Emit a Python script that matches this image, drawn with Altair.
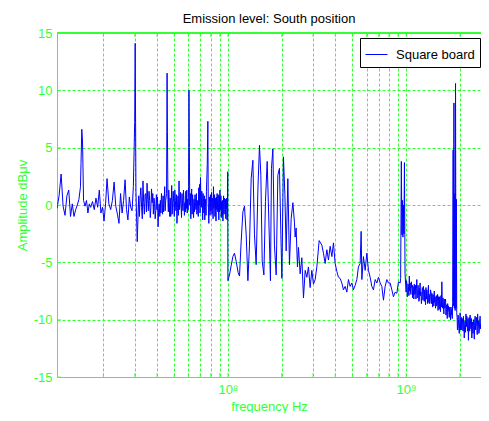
import altair as alt
import pandas as pd

series_name = "Square board"
chart_title = "Emission level: South position"

# Trace: frequency in MHz, amplitude in dBuV, split by sweep band.
# Band A: 11 - 31 MHz
band_a_freq = [
    11.0, 11.3, 11.6, 11.9, 12.2, 12.5, 12.8, 13.1, 13.4, 13.7, 14.0, 14.3, 14.6, 14.9, 15.0, 15.15, 15.3, 15.5,
    15.8, 16.1, 16.4, 16.7, 17.0, 17.4, 17.8, 18.2, 18.6, 19.0, 19.4, 19.8, 20.2, 20.6, 21.0, 21.5, 22.0, 22.5,
    23.0, 23.5, 24.0, 24.5, 25.0, 25.5, 26.0, 26.5, 27.0, 27.5, 28.0, 28.5, 29.0, 29.5, 30.0, 30.2, 30.5, 31.0,
]
band_a_amp = [
    -0.3, 0.8, 2.7, -0.1, -0.9, 0.8, 1.3, -1.0, 0.1, -1.0, -0.4, 0.0, 0.5, 1.6, 3.6, 6.6, 5.5, 0.4,
    -0.1, 0.4, -0.7, 0.1, -0.2, 0.3, -0.4, 0.6, -0.2, 1.3, -0.7, -0.2, -1.4, 0.1, 2.3, 0.1, -0.4, 0.4,
    2.0, -0.1, -0.8, -1.6, 1.0, -0.7, 0.4, 2.2, -0.4, -1.3, 0.7, -0.2, -0.5, 1.6, 7.2, 14.1, 1.2, -3.2,
]

# Band B: 31.6 - 99.8 MHz
band_b_freq = [
    31.6, 31.9, 32.2, 32.5, 32.8, 33.1, 33.4, 33.7, 34.0, 34.3, 34.6, 34.9, 35.2, 35.5, 35.8, 36.1, 36.4, 36.7,
    37.0, 37.3, 37.6, 37.9, 38.2, 38.5, 38.8, 39.1, 39.4, 39.7, 40.0, 40.3, 40.6, 40.9, 41.2, 41.5, 41.8, 42.1,
    42.4, 42.7, 43.0, 43.3, 43.6, 43.9, 44.2, 44.5, 44.8, 45.3, 45.6, 45.8, 46.1, 46.35, 46.6, 46.9, 47.2, 47.5,
    47.8, 48.1, 48.4, 48.7, 49.0, 49.35, 49.7, 50.05, 50.4, 50.75, 51.1, 51.45, 51.8, 52.15, 52.5, 52.85, 53.2, 53.55,
    53.9, 54.25, 54.6, 54.95, 55.3, 55.65, 56.0, 56.35, 56.7, 57.05, 57.4, 57.75, 58.1, 58.45, 58.8, 59.15, 59.5, 59.85,
    60.2, 60.5, 60.8, 61.1, 61.6, 61.95, 62.3, 62.65, 63.0, 63.4, 63.8, 64.2, 64.6, 65.0, 65.4, 65.8, 66.2, 66.6,
    67.0, 67.4, 67.8, 68.2, 68.6, 69.0, 69.4, 69.8, 70.2, 70.6, 71.0, 71.4, 71.8, 72.2, 72.6, 73.0, 73.4, 73.8,
    74.2, 74.6, 75.0, 75.4, 75.8, 76.6, 77.2, 77.6, 78.2, 78.6, 79.0, 79.4, 79.8, 80.2, 80.6, 81.0, 81.4, 81.8,
    82.2, 82.6, 83.0, 83.4, 83.8, 84.2, 84.6, 85.0, 85.4, 85.8, 86.2, 86.6, 87.0, 87.4, 87.8, 88.2, 88.6, 89.0,
    89.4, 89.8, 90.2, 90.6, 91.0, 91.4, 91.8, 92.2, 92.6, 93.0, 93.4, 93.8, 94.2, 94.6, 95.0, 95.4, 95.8, 96.2,
    96.6, 97.0, 97.4, 97.8, 98.2, 98.6, 99.0, 99.4, 99.8,
]
band_b_amp = [
    0.8, -1.0, 0.7, 1.5, -0.2, -1.2, 2.1, 0.2, -0.8, 0.9, 1.0, -0.6, 1.9, 0.5, -0.5, 1.2, 0.4, -1.1,
    -0.2, 1.4, 0.2, 1.0, -0.8, 0.6, 0.1, -1.2, -0.5, 0.9, -0.4, 0.7, -1.9, -0.3, 0.1, -1.0, 0.4, -0.7,
    1.0, 0.3, -0.8, 0.8, -0.6, 0.3, 1.6, -0.5, 0.4, 1.0, 11.5, 6.4, 0.5, -0.6, 1.3, 0.2, -1.0, 0.6,
    -1.0, 0.3, 1.7, -0.8, 0.1, 1.2, 0.2, -1.0, 1.3, 0.4, -0.5, 0.9, -1.6, -0.2, 0.8, -0.9, 2.1, -0.4,
    0.1, 1.1, 0.0, -1.1, 1.0, 0.1, -0.5, 1.3, 0.4, -0.9, 0.2, -0.6, 1.2, -0.3, 1.3, -0.7, 0.5, -0.4,
    1.6, 10.0, 5.0, 0.0, 1.0, -1.2, 0.6, 1.4, -0.8, 0.9, 0.1, -1.1, 0.5, -0.6, 0.9, 0.2, -0.4, 1.0,
    -0.8, -0.1, 0.4, -1.0, 1.5, 0.0, 1.8, -0.7, 2.4, 0.3, -0.2, 1.2, 0.6, -1.3, 1.0, 0.2, -0.7, 0.8,
    -1.3, -0.2, 0.5, -0.9, 1.2, 3.5, 7.3, 0.2, -1.6, 0.7, 0.3, -0.9, 0.9, -0.5, -0.3, 1.1, -0.8, 0.3,
    0.6, -1.2, 1.6, -0.3, 0.1, 0.9, -1.0, 0.6, -0.5, -1.4, 0.7, -0.4, 1.0, 0.0, -0.6, 0.9, -0.2, -1.3,
    0.8, -0.6, 1.3, 0.1, -0.4, 0.8, -1.1, 0.3, -1.0, -0.2, 0.4, -1.4, 0.1, 0.8, -0.8, 0.4, 0.6, -0.4,
    -0.8, 0.5, -1.2, 0.2, -0.3, 0.6, -1.3, -0.2, 2.9,
]

# Band C: 100 - 986 MHz
band_c_freq = [
    100.0, 102.1, 104.3, 106.7, 108.9, 111.3, 114.2, 116.2, 118.7, 121.4, 123.9, 126.7, 129.5, 132.2, 135.1,
    138.1, 141.0, 144.1, 147.4, 150.4, 153.1, 155.8, 159.2, 162.5, 166.1, 169.8, 173.3, 175.6, 178.8, 182.5,
    186.6, 190.7, 194.7, 198.3, 200.9, 205.0, 208.8, 212.3, 217.0, 221.5, 226.5, 231.5, 236.3, 238.4, 241.5,
    245.6, 248.9, 254.3, 260.0, 265.5, 271.4, 277.3, 283.1, 289.4, 295.8, 302.0, 308.7, 315.6, 325.1, 336.6,
    343.7, 351.3, 359.1, 366.6, 374.7, 383.1, 391.1, 399.7, 408.6, 417.1, 426.3, 435.8, 444.9, 454.8, 464.9,
    474.6, 485.1, 495.9, 506.0, 517.6, 529.0, 540.1, 552.1, 559.2, 564.3, 576.1, 589.0, 601.9, 614.6, 628.2,
    642.1, 655.6, 670.1, 685.0, 699.3, 714.8, 730.6, 746.0, 762.4, 779.5, 795.7, 813.4, 831.4, 848.8, 867.6,
    886.9, 905.4, 925.4, 931.5, 939.9, 947.1, 953.2, 959.6, 965.8, 972.0, 978.4, 985.9,
]
band_c_amp = [
    -6.6, -6.1, -5.3, -4.5, -4.2, -4.9, -5.9, -6.2, -3.2, -0.6, -0.1, -2.6, -6.6, -3.5, 2.3,
    3.9, -2.6, -5.2, 1.4, 5.2, 2.6, -4.9, -6.1, 0.3, 3.8, -1.4, -6.6, 3.2, 4.9, -3.5,
    -6.1, 2.6, 3.2, -2.6, -6.4, 4.2, 0.9, -4.0, 2.3, -5.2, -1.2, 0.2, -1.5, -2.8, -2.0,
    -5.4, -3.7, -6.0, -4.6, -8.1, -5.7, -6.3, -5.4, -7.2, -5.7, -6.9, -6.5, -5.4, -3.1, -3.5,
    -4.2, -5.1, -3.9, -4.8, -3.6, -4.5, -3.3, -5.1, -5.8, -6.3, -6.4, -6.8, -7.4, -7.1, -7.6,
    -6.5, -7.1, -6.8, -7.4, -7.0, -6.5, -5.4, -5.1, -2.3, -6.5, -4.5, -5.7, -4.2, -5.7, -6.3,
    -7.1, -7.4, -6.5, -6.8, -6.3, -6.8, -7.1, -8.3, -7.1, -6.5, -6.8, -6.8, -7.4, -8.0, -7.6,
    -7.7, -6.7, -6.8, -6.4, 3.8, -2.6, 0.4, -2.8, 0.0, -2.5, 3.7, -6.0,
]

# Band D: 1000 - 2920 MHz
band_d_freq = [
    1000, 1004, 1009, 1015, 1020, 1025, 1030, 1036, 1042, 1047, 1053, 1058, 1064, 1070, 1076, 1082, 1088, 1093,
    1099, 1105, 1111, 1117, 1123, 1129, 1135, 1141, 1148, 1154, 1160, 1166, 1172, 1178, 1185, 1191, 1198, 1204,
    1211, 1218, 1225, 1231, 1237, 1243, 1250, 1257, 1264, 1271, 1278, 1285, 1292, 1299, 1306, 1313, 1320, 1327,
    1334, 1341, 1348, 1355, 1363, 1370, 1378, 1386, 1394, 1401, 1408, 1415, 1423, 1430, 1438, 1446, 1454, 1462,
    1470, 1478, 1486, 1494, 1502, 1510, 1518, 1526, 1534, 1542, 1551, 1559, 1568, 1577, 1586, 1594, 1602, 1610,
    1619, 1628, 1637, 1646, 1655, 1664, 1673, 1682, 1692, 1701, 1710, 1718, 1727, 1736, 1746, 1755, 1765, 1775,
    1785, 1794, 1804, 1815, 1823, 1835, 1845, 1854, 1864, 1874, 1883, 1893, 1903, 1913, 1922, 1932, 1940, 1948,
    1956, 1965, 1976, 1987, 1998, 2009, 2020, 2031, 2042, 2053, 2064, 2075, 2086, 2096, 2108, 2119, 2130, 2142,
    2154, 2166, 2178, 2190, 2202, 2213, 2225, 2236, 2248, 2260, 2272, 2285, 2297, 2310, 2323, 2336, 2348, 2360,
    2372, 2385, 2398, 2411, 2424, 2438, 2451, 2465, 2478, 2492, 2505, 2518, 2531, 2544, 2558, 2572, 2586, 2600,
    2614, 2629, 2658, 2685, 2713, 2743, 2773, 2804, 2835, 2864, 2894, 2920,
]
band_d_amp = [
    -7.6, -6.6, -6.8, -8.0, -7.9, -6.9, -7.1, -7.9, -6.2, -7.5, -6.8, -7.6, -7.8, -6.7, -7.2, -7.0, -8.1, -7.1,
    -7.5, -8.2, -6.9, -7.8, -7.7, -7.0, -8.2, -7.3, -6.5, -8.1, -7.9, -7.0, -7.4, -8.4, -8.3, -7.2, -6.8, -7.9,
    -7.6, -8.6, -8.0, -7.2, -7.3, -8.3, -7.1, -7.6, -8.4, -7.4, -8.0, -8.7, -7.2, -8.2, -7.4, -7.9, -8.6, -7.6,
    -7.0, -8.5, -7.8, -8.6, -8.3, -7.4, -7.6, -8.6, -7.7, -8.1, -8.9, -7.8, -8.3, -8.8, -7.5, -8.5, -8.0, -9.0,
    -8.7, -7.9, -8.8, -8.3, -7.8, -9.2, -8.0, -8.4, -9.1, -8.0, -8.5, -9.3, -7.9, -8.9, -6.7, -8.4, -9.0, -8.1,
    -8.8, -9.5, -8.2, -9.0, -8.5, -8.2, -9.6, -8.7, -9.3, -9.9, -8.6, -9.2, -8.8, -9.4, -9.8, -8.9, -9.4, -10.0,
    -8.9, -9.6, -9.1, -9.9, -8.5, 4.8, -8.8, 8.9, -9.0, 1.0, -9.2, 10.6, -9.0, 0.5, -9.4, -9.8, -10.9, -10.6,
    -9.6, -10.0, -10.8, -11.2, -10.1, -9.4, -10.9, -10.4, -9.8, -10.9, -10.2, -9.9, -11.0, -9.7, -10.5, -11.6, -10.4, -10.1,
    -11.1, -9.5, -10.6, -9.7, -10.3, -11.0, -9.9, -11.8, -10.5, -9.8, -11.0, -9.6, -10.3, -10.8, -9.9, -11.6, -10.6, -10.2,
    -11.2, -10.0, -10.5, -11.7, -10.2, -9.7, -10.9, -10.3, -9.8, -10.6, -11.3, -9.5, -10.4, -10.1, -11.2, -11.0, -10.1, -9.7,
    -10.8, -10.4, -10.9, -9.9, -10.1, -11.5, -9.3, -10.5, -11.5, -10.0, -10.1, -10.8,
]

grid_freqs_hz = [2e7, 3e7, 4e7, 5e7, 6e7, 7e7, 8e7, 9e7, 1e8,
                 2e8, 3e8, 4e8, 5e8, 6e8, 7e8, 8e8, 9e8, 1e9, 2e9]
y_ticks = [-15, -10, -5, 0, 5, 10, 15]

freq_mhz = band_a_freq + band_b_freq + band_c_freq + band_d_freq
amp_db = band_a_amp + band_b_amp + band_c_amp + band_d_amp

df = pd.DataFrame({"freq": [f * 1e6 for f in freq_mhz], "amp": amp_db, "series": series_name})
grid_df = pd.DataFrame({"freq": grid_freqs_hz})
ytick_df = pd.DataFrame({"amp": y_ticks})

GREEN = "#33ff33"
BLUE = "#0000ff"
FONT = "Liberation Sans"
FS = 13

x_scale = alt.Scale(type="log", domain=[1.1e7, 2.63e9], nice=False)
y_scale = alt.Scale(domain=[-15, 15], nice=False)

x_axis = alt.Axis(
    values=grid_freqs_hz,
    labelExpr="datum.value == 1e8 ? '10⁸' : (datum.value == 1e9 ? '10⁹' : '')",
    grid=True, gridColor=GREEN, gridDash=[3, 2], gridWidth=1,
    ticks=False, domainColor=GREEN, domainWidth=1,
    labelColor=GREEN, labelFontSize=FS, labelFont=FONT, labelPadding=6,
    labelOverlap=False, labelFlush=False,
    title="frequency Hz", titleColor=GREEN, titleFontSize=FS, titleFont=FONT,
    titleFontWeight="normal", titlePadding=4,
)
y_axis = alt.Axis(
    values=y_ticks,
    labelExpr="'' + datum.value",
    grid=True, gridColor=GREEN, gridDash=[3, 2], gridWidth=1,
    ticks=False, domainColor=GREEN, domainWidth=1,
    labelColor=GREEN, labelFontSize=FS, labelFont=FONT, labelPadding=5,
    title="Amplitude dBμv", titleColor=GREEN, titleFontSize=FS, titleFont=FONT,
    titleFontWeight="normal", titlePadding=4,
)

line = alt.Chart(df).mark_line(strokeWidth=1, clip=True).encode(
    x=alt.X("freq:Q", scale=x_scale, axis=x_axis),
    y=alt.Y("amp:Q", scale=y_scale, axis=y_axis),
    color=alt.Color(
        "series:N",
        scale=alt.Scale(range=[BLUE]),
        legend=alt.Legend(
            title=None, orient="none", legendX=303, legendY=5,
            symbolType="stroke", symbolSize=484, symbolStrokeWidth=1,
            labelFontSize=FS, labelFont=FONT, labelColor="black",
            padding=5, labelOffset=8, strokeColor="black", fillColor="white",
            cornerRadius=0,
        ),
    ),
)

top_border = alt.Chart(ytick_df).mark_rule(color=GREEN, strokeWidth=1).encode(
    y=alt.datum(15, scale=y_scale)
)

bottom_ticks = alt.Chart(grid_df).mark_tick(
    color=GREEN, orient="vertical", size=4, thickness=1, yOffset=-2
).encode(x=alt.X("freq:Q", scale=x_scale), y=alt.datum(-15))

top_ticks = alt.Chart(grid_df).mark_tick(
    color=GREEN, orient="vertical", size=4, thickness=1, yOffset=2
).encode(x=alt.X("freq:Q", scale=x_scale), y=alt.datum(15))

left_ticks = alt.Chart(ytick_df).mark_tick(
    color=GREEN, orient="horizontal", size=4, thickness=1, xOffset=2
).encode(y=alt.Y("amp:Q", scale=y_scale), x=alt.datum(1.1e7))

chart = alt.layer(line, top_border, bottom_ticks, top_ticks, left_ticks).properties(
    width=424,
    height=344,
    padding={"left": 49, "top": 25, "right": 0, "bottom": 36},
    autosize=alt.AutoSizeParams(type="none"),
    title=alt.TitleParams(chart_title, fontSize=FS, fontWeight="normal", color="black",
                          font=FONT, offset=1, anchor="middle"),
).configure_view(stroke=None)

chart.save("out.html", embed_options={"renderer": "svg", "actions": False})
